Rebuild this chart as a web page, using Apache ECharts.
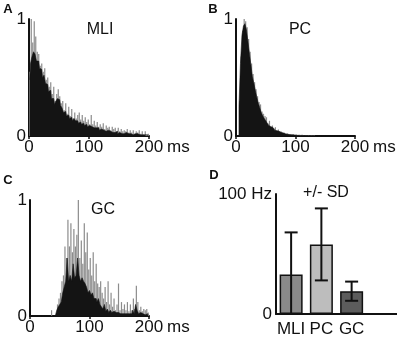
<!DOCTYPE html>
<html>
<head>
<meta charset="utf-8">
<script src="https://cdn.jsdelivr.net/npm/echarts@6/dist/echarts.min.js"></script>
<style>
  html, body { margin: 0; padding: 0; background: #fff; }
  #chart { width: 397px; height: 338px; }
</style>
</head>
<body>
<div id="chart"></div>
<script>
// histogram bins, 2.5 ms wide, 0..200 ms
const binMs = Array.from({ length: 80 }, (_, i) => i * 2.5 + 1.25)

// A: MLI
const mliBlack = [
  0.48, 0.62, 0.68, 0.72, 0.7, 0.64, 0.64, 0.58, 0.57, 0.5, 0.52, 0.45,
  0.44, 0.38, 0.39, 0.32, 0.32, 0.27, 0.3, 0.32, 0.31, 0.26, 0.24, 0.2,
  0.21, 0.17, 0.18, 0.15, 0.16, 0.13, 0.15, 0.13, 0.13, 0.11, 0.12, 0.1,
  0.11, 0.09, 0.1, 0.08, 0.09, 0.08, 0.08, 0.07, 0.07, 0.06, 0.07, 0.05,
  0.06, 0.05, 0.05, 0.04, 0.05, 0.04, 0.04, 0.03, 0.04, 0.03, 0.04, 0.02,
  0.03, 0.02, 0.03, 0.02, 0.03, 0.02, 0.02, 0.02, 0.02, 0.01, 0.02, 0.01,
  0.02, 0.01, 0.02, 0.01, 0.01, 0.01, 0.01, 0.01
]
const mliGrey = [
  0.55, 1.0, 0.8, 0.98, 0.85, 0.72, 0.7, 0.6, 0.62, 0.55, 0.58, 0.48,
  0.5, 0.42, 0.46, 0.36, 0.42, 0.3, 0.36, 0.4, 0.34, 0.28, 0.3, 0.22,
  0.28, 0.19, 0.25, 0.17, 0.23, 0.15, 0.2, 0.15, 0.18, 0.2, 0.14, 0.18,
  0.13, 0.16, 0.12, 0.14, 0.1, 0.18, 0.1, 0.13, 0.09, 0.12, 0.08, 0.1,
  0.08, 0.11, 0.06, 0.09, 0.07, 0.08, 0.05, 0.08, 0.06, 0.07, 0.04, 0.07,
  0.04, 0.06, 0.04, 0.05, 0.04, 0.06, 0.03, 0.05, 0.03, 0.05, 0.02, 0.04,
  0.03, 0.05, 0.02, 0.04, 0.01, 0.04, 0.01, 0.02
]

// B: PC
const pcBlack = [
  0, 0, 0.25, 0.62, 0.86, 0.94, 0.96, 0.91, 0.81, 0.71, 0.61, 0.51,
  0.45, 0.39, 0.33, 0.28, 0.24, 0.2, 0.17, 0.15, 0.13, 0.11, 0.09, 0.08,
  0.07, 0.06, 0.05, 0.045, 0.04, 0.035, 0.03, 0.025, 0.02, 0.018, 0.015, 0.012,
  0.01, 0.01, 0.008, 0.008, 0.006, 0.006, 0.005, 0.005, 0.004, 0.004, 0.004, 0.003,
  0.003, 0.003, 0.003, 0.002, 0.002, 0, 0, 0, 0, 0, 0, 0,
  0, 0, 0, 0, 0, 0, 0, 0, 0, 0, 0, 0,
  0, 0, 0, 0, 0, 0, 0, 0
]
const pcGrey = [
  0, 0, 0.3, 0.68, 0.9, 1.0, 0.98, 0.93, 0.83, 0.72, 0.62, 0.53,
  0.46, 0.4, 0.34, 0.29, 0.27, 0.21, 0.19, 0.17, 0.16, 0.11, 0.13, 0.08,
  0.09, 0.065, 0.075, 0.048, 0.055, 0.038, 0.038, 0.028, 0.028, 0.02, 0.022, 0.014,
  0.018, 0.012, 0.014, 0.01, 0.012, 0.008, 0.01, 0.008, 0.01, 0.006, 0.008, 0.006,
  0.008, 0.005, 0.008, 0.005, 0.008, 0, 0, 0, 0, 0, 0, 0,
  0, 0, 0, 0, 0, 0, 0, 0, 0, 0, 0, 0,
  0, 0, 0, 0, 0, 0, 0, 0
]

// C: GC
const gcBlack = [
  0, 0, 0, 0, 0, 0, 0, 0, 0, 0, 0, 0,
  0, 0, 0, 0, 0, 0, 0.05, 0.08, 0.1, 0.12, 0.2, 0.25,
  0.3, 0.5, 0.3, 0.35, 0.3, 0.45, 0.33, 0.35, 0.5, 0.35, 0.3, 0.33,
  0.3, 0.28, 0.25, 0.2, 0.22, 0.18, 0.2, 0.15, 0.15, 0.12, 0.15, 0.1,
  0.08, 0.06, 0.1, 0.04, 0.06, 0.03, 0.05, 0.03, 0.04, 0.03, 0.02, 0.03,
  0.02, 0.03, 0.02, 0.02, 0.03, 0.02, 0.02, 0.03, 0.02, 0.05, 0.02, 0.1,
  0.05, 0.02, 0.03, 0.02, 0.02, 0.01, 0.02, 0.01
]
const gcGrey = [
  0, 0, 0, 0, 0, 0, 0, 0, 0, 0, 0, 0,
  0, 0, 0.05, 0, 0, 0, 0.1, 0.15, 0.2, 0.3, 0.35, 0.6,
  0.5, 0.83, 0.6, 0.8, 0.55, 0.75, 0.6, 0.7, 1.0, 0.5, 0.65, 0.45,
  0.8, 0.55, 0.72, 0.4, 0.5, 0.35, 0.55, 0.3, 0.45, 0.28, 0.25, 0.3,
  0.2, 0.15, 0.25, 0.12, 0.3, 0.1, 0.2, 0.08, 0.15, 0.05, 0.1, 0.28,
  0.05, 0.12, 0.06, 0.1, 0.05, 0.12, 0.04, 0.1, 0.05, 0.15, 0.06, 0.26,
  0.12, 0.05, 0.08, 0.04, 0.06, 0.05, 0.06, 0.03
]

// D: mean rate +/- SD
const dCats = ['MLI', 'PC', 'GC', '']
const dMean = [33, 58, 19]
const dSd = [35, 30, 8]

const font = 'Liberation Sans, Arial, sans-serif'
const ink = '#111'
const barColors = ['#8a8a8a', '#bdbdbd', '#5c5c5c']

function histX(grid) {
  return {
    type: 'value', gridIndex: grid, min: 0, max: 200, interval: 100,
    axisLine: { show: true, onZero: false, lineStyle: { color: ink, width: 2 } },
    axisTick: { show: true, length: 3, lineStyle: { color: ink, width: 1.5 } },
    axisLabel: { color: ink, fontSize: 17, fontFamily: font, margin: 3 },
    splitLine: { show: false },
    name: 'ms', nameLocation: 'end', nameGap: 14,
    nameTextStyle: { color: ink, fontSize: 17, fontFamily: font, verticalAlign: 'top', padding: [3, 0, 0, 0] },
  }
}
function histY(grid) {
  return {
    type: 'value', gridIndex: grid, min: 0, max: 1, interval: 1,
    axisLine: { show: true, lineStyle: { color: ink, width: 2 } },
    axisTick: { show: false },
    axisLabel: { color: ink, fontSize: 17, fontFamily: font, margin: 3 },
    splitLine: { show: false },
  }
}
// grey spikes as thin bars behind, black body as a stepped area in front
function histSeries(grid, grey, black) {
  return [
    {
      type: 'bar', xAxisIndex: grid, yAxisIndex: grid, z: 2, barWidth: 1.2,
      data: binMs.map((x, i) => [x, grey[i]]), itemStyle: { color: '#8c8c8c' }, silent: true,
    },
    {
      type: 'line', step: 'middle', xAxisIndex: grid, yAxisIndex: grid, z: 3,
      symbol: 'none', silent: true,
      data: binMs.map((x, i) => [x, black[i]]),
      lineStyle: { color: '#141414', width: 0.6 },
      areaStyle: { color: '#141414', opacity: 1 },
    },
  ]
}
function txt(x, y, s, size, bold) {
  return {
    type: 'text', x: x, y: y,
    style: { text: s, fill: ink, font: (bold ? 'bold ' : '') + size + 'px ' + font, textAlign: 'center', textVerticalAlign: 'middle' },
  }
}

const option = {
  animation: false,
  grid: [
    { left: 29, top: 19, width: 120, height: 117 },
    { left: 236, top: 19, width: 119, height: 117 },
    { left: 30, top: 200, width: 119, height: 116 },
    { left: 276, top: 194, width: 144, height: 121 },
  ],
  xAxis: [
    histX(0), histX(1), histX(2),
    {
      type: 'category', gridIndex: 3, data: dCats,
      axisLine: { show: true, lineStyle: { color: ink, width: 2 } },
      axisTick: { show: false },
      axisLabel: { color: ink, fontSize: 17, fontFamily: font, margin: 7, interval: 0 },
    },
  ],
  yAxis: [
    histY(0), histY(1), histY(2),
    {
      type: 'value', gridIndex: 3, min: 0, max: 100, interval: 100,
      axisLine: { show: true, lineStyle: { color: ink, width: 2 } },
      axisTick: { show: false },
      axisLabel: { color: ink, fontSize: 17, fontFamily: font, margin: 4, formatter: v => (v === 100 ? '100 Hz' : v) },
      splitLine: { show: false },
    },
  ],
  series: [
    ...histSeries(0, mliGrey, mliBlack),
    ...histSeries(1, pcGrey, pcBlack),
    ...histSeries(2, gcGrey, gcBlack),
    {
      type: 'bar', xAxisIndex: 3, yAxisIndex: 3, barWidth: 23,
      data: dMean.map((v, i) => ({ value: v, itemStyle: { color: barColors[i] } })),
      itemStyle: { borderColor: ink, borderWidth: 1.5 },
    },
    {
      type: 'custom', xAxisIndex: 3, yAxisIndex: 3, z: 5,
      data: dMean.map((m, i) => [i, Math.max(0, m - dSd[i]), m + dSd[i]]),
      renderItem(params, api) {
        const lo = api.coord([api.value(0), api.value(1)])
        const hi = api.coord([api.value(0), api.value(2)])
        const half = 6.5
        const style = { stroke: ink, lineWidth: 2 }
        return {
          type: 'group',
          children: [
            { type: 'line', shape: { x1: hi[0], y1: hi[1], x2: lo[0], y2: lo[1] }, style },
            { type: 'line', shape: { x1: hi[0] - half, y1: hi[1], x2: hi[0] + half, y2: hi[1] }, style },
            { type: 'line', shape: { x1: lo[0] - half, y1: lo[1], x2: lo[0] + half, y2: lo[1] }, style },
          ],
        }
      },
    },
  ],
  graphic: [
    txt(8, 9, 'A', 13, true),
    txt(213, 9, 'B', 13, true),
    txt(8, 180, 'C', 13, true),
    txt(214, 175, 'D', 13, true),
    txt(100, 30, 'MLI', 16),
    txt(300, 30, 'PC', 16),
    txt(103, 210, 'GC', 16),
    txt(326, 193, '+/- SD', 16),
  ],
}

const myChart = echarts.init(document.getElementById('chart'))
myChart.setOption(option, true)
</script>
</body>
</html>
